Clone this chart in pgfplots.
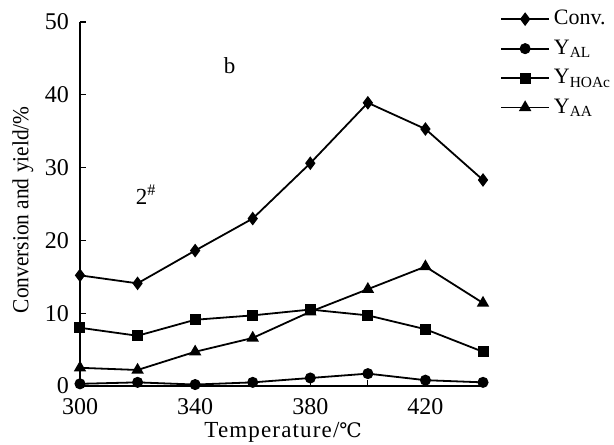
\documentclass[border=0pt]{standalone}
\usepackage{fontspec}
\setmainfont{Liberation Serif}
\newfontfamily\dejavu{DejaVu Serif}
\usepackage{pgfplots}
\pgfplotsset{compat=1.18}
\begin{document}
\begin{tikzpicture}
\begin{axis}[
  name=ax,
  scale only axis, width=201.5pt, height=182pt,
  xmin=300, xmax=440, ymin=0, ymax=50,
  axis x line=bottom, axis y line=left,
  axis line style={-, line width=0.6pt},
  xtick={300,340,380,420}, minor xtick={320,360,400,440},
  ytick={0,10,20,30,40,50},
  tick align=inside, major tick length=3pt, minor tick length=3pt,
  tick style={black, line width=0.6pt},
  /pgf/number format/assume math mode=true,
  tick label style={font=\fontsize{12}{13}\selectfont, inner sep=0.8pt},
  xticklabel style={yshift=-5.5pt},
  yticklabel style={xshift=-4.5pt},
  xlabel={{\addfontfeature{LetterSpace=5}Temperature/}{\dejavu\fontsize{10}{12}\selectfont ℃}},
  ylabel={\addfontfeature{FakeStretch=0.93}Conversion and yield/\%},
  label style={font=\fontsize{11.5}{13}\selectfont},
  xlabel style={at={(rel axis cs:0.504,0)}, anchor=center, yshift=-23pt},
  ylabel style={at={(rel axis cs:-0.142,0.484)}, anchor=center},
  clip=false,
  legend style={at={(rel axis cs:1.042,1.044)}, anchor=north west, draw=none, fill=none,
    font=\fontsize{11}{12}\selectfont, row sep=2pt, inner sep=0pt},
  legend cell align=left,
  legend image code/.code={\draw[mark repeat=2,mark phase=2,#1] plot coordinates {(0cm,0cm) (0.42cm,0cm) (0.84cm,0cm)};},
]
\addplot[black, line width=0.9pt, mark=diamond*, mark size=2.7pt, mark options={fill=black}] coordinates {
 (300,15.2) (320,14.1) (340,18.6) (360,23.0) (380,30.6) (400,38.9) (420,35.3) (440,28.3)};
\addlegendentry{Conv.}
\addplot[black, line width=0.9pt, mark=*, mark size=2.3pt, mark options={fill=black}] coordinates {
 (300,0.3) (320,0.5) (340,0.2) (360,0.5) (380,1.1) (400,1.7) (420,0.8) (440,0.5)};
\addlegendentry{Y\textsubscript{AL}}
\addplot[black, line width=0.9pt, mark=square*, mark size=2.3pt, mark options={fill=black}] coordinates {
 (300,8.0) (320,6.9) (340,9.1) (360,9.7) (380,10.5) (400,9.7) (420,7.8) (440,4.7)};
\addlegendentry{Y\textsubscript{HOAc}}
\addplot[black, line width=0.9pt, mark=triangle*, mark size=2.7pt, mark options={fill=black}] coordinates {
 (300,2.5) (320,2.2) (340,4.7) (360,6.6) (380,10.2) (400,13.3) (420,16.4) (440,11.4)};
\addlegendentry{Y\textsubscript{AA}}
\node[font=\fontsize{11.5}{13}\selectfont] at (axis cs:352,44) {b};
\node[font=\fontsize{11.5}{13}\selectfont] at (axis cs:323,26.3) {2\textsuperscript{\#}};
\end{axis}
\pgfresetboundingbox
\path[use as bounding box] ([xshift=-40pt,yshift=-29pt]ax.south west) rectangle ([xshift=65.5pt,yshift=11pt]ax.north east);
\end{tikzpicture}
\end{document}
